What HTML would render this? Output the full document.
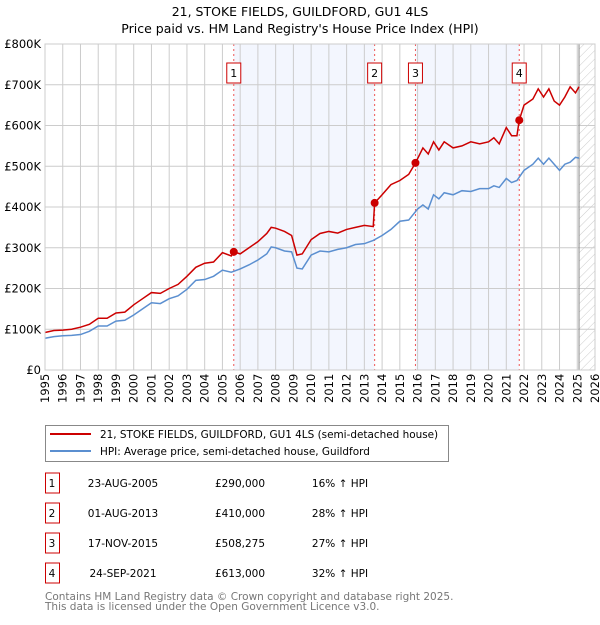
<!DOCTYPE html>
<html><head><meta charset="utf-8"><style>
body{margin:0;width:600px;height:620px;background:#fff;font-family:"Liberation Sans","DejaVu Sans",sans-serif;overflow:hidden}
svg text{font-family:"DejaVu Sans","Liberation Sans",sans-serif}
</style></head><body>
<svg id="c" width="600" height="620">
<text x="300" y="16" text-anchor="middle" font-size="12.5">21, STOKE FIELDS, GUILDFORD, GU1 4LS</text>
<text x="300" y="33" text-anchor="middle" font-size="12.5">Price paid vs. HM Land Registry's House Price Index (HPI)</text>
<g id="plot"></g>
<g>
<rect x="45.5" y="425.5" width="403" height="36" fill="#fff" stroke="#888"/>
<line x1="50" y1="434" x2="91" y2="434" stroke="#cc0000" stroke-width="2"/>
<text x="100" y="438" font-size="10.45">21, STOKE FIELDS, GUILDFORD, GU1 4LS (semi-detached house)</text>
<line x1="50" y1="451" x2="91" y2="451" stroke="#5b8fd0" stroke-width="2"/>
<text x="100" y="455" font-size="10.45">HPI: Average price, semi-detached house, Guildford</text>
</g>
<g id="tbl" font-size="11"></g>
<text x="45" y="600" font-size="10.5" fill="#777">Contains HM Land Registry data © Crown copyright and database right 2025.</text>
<text x="45" y="610" font-size="10.5" fill="#777">This data is licensed under the Open Government Licence v3.0.</text>
</svg>
<script>
const hpiYears=[1995,1995.5,1996,1996.5,1997,1997.5,1998,1998.5,1999,1999.5,2000,2000.5,2001,2001.5,2002,2002.5,2003,2003.5,2004,2004.5,2005,2005.5,2006,2006.5,2007,2007.5,2007.75,2008,2008.5,2008.9,2009.2,2009.5,2010,2010.5,2011,2011.5,2012,2012.5,2013,2013.5,2014,2014.5,2015,2015.5,2016,2016.3,2016.6,2016.9,2017.2,2017.5,2018,2018.5,2019,2019.5,2020,2020.3,2020.6,2021,2021.3,2021.6,2022,2022.5,2022.8,2023.1,2023.4,2023.7,2024,2024.3,2024.6,2024.9,2025.1];
const hpiValues=[78,82,84,85,87,95,108,108,120,122,135,150,165,163,175,182,198,220,222,230,245,240,248,258,270,285,302,300,292,290,250,248,282,292,290,296,300,308,310,318,330,345,365,368,395,405,395,430,420,435,430,440,438,445,445,452,448,470,460,465,490,505,520,505,520,505,490,505,510,522,520];
const priceYears=[1995,1995.5,1996,1996.5,1997,1997.5,1998,1998.5,1999,1999.5,2000,2000.5,2001,2001.5,2002,2002.5,2003,2003.5,2004,2004.5,2005,2005.5,2005.64,2006,2006.5,2007,2007.5,2007.75,2008,2008.5,2008.9,2009.2,2009.5,2010,2010.5,2011,2011.5,2012,2012.5,2013,2013.5,2013.58,2014,2014.5,2015,2015.5,2015.88,2016.3,2016.6,2016.9,2017.2,2017.5,2018,2018.5,2019,2019.5,2020,2020.3,2020.6,2021,2021.3,2021.6,2021.73,2022,2022.5,2022.8,2023.1,2023.4,2023.7,2024,2024.3,2024.6,2024.9,2025.1];
const priceValues=[92,97,98,100,105,112,127,127,140,142,160,175,190,188,200,210,230,252,262,265,288,280,290,285,300,315,335,350,348,340,330,282,285,320,335,340,336,345,350,355,352,410,430,455,465,480,508,545,530,560,540,560,545,550,560,555,560,570,555,595,575,575,613,650,665,690,670,690,660,650,670,695,680,695];
const saleYears=[2005.64,2013.58,2015.88,2021.73];
const saleValues=[290,410,508.275,613];
const saleLabels=["1","2","3","4"];
const saleDates=["23-AUG-2005","01-AUG-2013","17-NOV-2015","24-SEP-2021"];
const salePrices=["£290,000","£410,000","£508,275","£613,000"];
const salePct=["16% ↑ HPI","28% ↑ HPI","27% ↑ HPI","32% ↑ HPI"];
const yTicks=[0,100,200,300,400,500,600,700,800];
const yTickLabels=["£0","£100K","£200K","£300K","£400K","£500K","£600K","£700K","£800K"];
const xTicks=[1995,1996,1997,1998,1999,2000,2001,2002,2003,2004,2005,2006,2007,2008,2009,2010,2011,2012,2013,2014,2015,2016,2017,2018,2019,2020,2021,2022,2023,2024,2025,2026];
const X0=45,X1=595,Y0=370,Y1=44;
const sx=v=>X0+(v-1995)*(X1-X0)/31;
const sy=v=>Y0-v*(Y0-Y1)/800;
const NS="http://www.w3.org/2000/svg";
const g=document.getElementById('plot');
function mk(t,a,p){const e=document.createElementNS(NS,t);for(const k in a)e.setAttribute(k,a[k]);(p||g).appendChild(e);return e;}
const defs=mk('defs',{});
const pat=mk('pattern',{id:'hatch',width:6,height:6,patternUnits:'userSpaceOnUse',patternTransform:'rotate(45)'},defs);
mk('line',{x1:0,y1:0,x2:0,y2:6,stroke:'#ccc','stroke-width':1},pat);
let s=mk('rect',{x:sx(saleYears[0]),y:Y1,width:sx(saleYears[1])-sx(saleYears[0]),height:Y0-Y1,fill:'#f3f6fe'});

s=mk('rect',{x:sx(saleYears[2]),y:Y1,width:sx(saleYears[3])-sx(saleYears[2]),height:Y0-Y1,fill:'#f3f6fe'});

s=mk('rect',{x:sx(2025.1),y:Y1,width:X1-sx(2025.1),height:Y0-Y1,fill:'url(#hatch)'});

xTicks.forEach(t=>{const l=mk('line',{x1:sx(t),x2:sx(t),y1:Y1,y2:Y0,stroke:'#ccc'});

const tx=mk('text',{x:0,y:0,transform:`translate(${sx(t)+4},${Y0+33}) rotate(-90)`,'font-size':11.5});tx.textContent=t;
});
yTicks.forEach((t,i)=>{const l=mk('line',{x1:X0,x2:X1,y1:sy(t),y2:sy(t),stroke:'#ccc'});

const tx=mk('text',{x:X0-4,y:sy(t)+4,'text-anchor':'end','font-size':11.5});tx.textContent=yTickLabels[i];
});
let vl=mk('line',{x1:sx(2025.1),x2:sx(2025.1),y1:Y1,y2:Y0,stroke:'#888','stroke-width':1});

saleYears.forEach((y,i)=>{const l=mk('line',{x1:sx(y),x2:sx(y),y1:Y1,y2:Y0,stroke:'#e55','stroke-dasharray':'2,3'});

const r=mk('rect',{x:sx(y)-7,y:63,width:14,height:20,fill:'#fff',stroke:'#cc0000'});

const t=mk('text',{x:sx(y),y:77,'text-anchor':'middle','font-size':11});t.textContent=saleLabels[i];
});
const hp=mk('polyline',{points:hpiYears.map((y,i)=>sx(y)+','+sy(hpiValues[i])).join(' '),fill:'none',stroke:'#5b8fd0','stroke-width':1.5});

const pp=mk('polyline',{points:priceYears.map((y,i)=>sx(y)+','+sy(priceValues[i])).join(' '),fill:'none',stroke:'#cc0000','stroke-width':1.5});

saleYears.forEach((y,i)=>{const c=mk('circle',{cx:sx(y),cy:sy(saleValues[i]),r:4,fill:'#cc0000'});
});
const fr=mk('rect',{x:X0,y:Y1,width:X1-X0,height:Y0-Y1,fill:'none',stroke:'#ccc'});

const tb=document.getElementById('tbl');
saleLabels.forEach((l,i)=>{const cy=483+i*30;
const r=mk('rect',{x:45.5,y:cy-10,width:14,height:20,fill:'#fff',stroke:'#cc0000'},tb);

const cols=[[52,l],[123,saleDates[i]],[240,salePrices[i]],[340,salePct[i]]];
cols.forEach(([x,v],j)=>{const t=mk('text',{x:x,y:cy+4,'text-anchor':'middle','font-size':10.5},tb);t.textContent=v;

});});
</script>
</body></html>
